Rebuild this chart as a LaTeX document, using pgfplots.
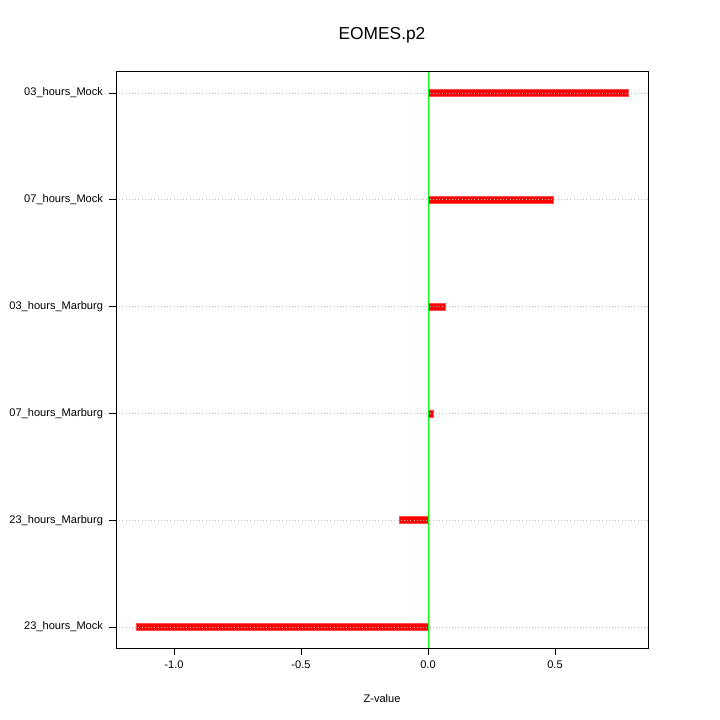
\documentclass[border=0pt]{standalone}
\usepackage{pgfplots}
\pgfplotsset{compat=1.18}
\usepackage{fontspec}
\setmainfont{Liberation Sans}

\begin{document}
\begin{tikzpicture}[x=0.75pt,y=0.75pt]
% 720 x 720 canvas
\path[use as bounding box] (0,0) rectangle (720,720);
\begin{axis}[
  at={(116pt*0.75,72pt*0.75)}, anchor=south west,
  scale only axis,
  width=399pt, height=432.75pt,
  xmin=-1.2283, xmax=0.8661,
  ymin=0.803, ymax=6.206,
  xtick={-1,-0.5,0,0.5},
  xticklabels={-1.0,-0.5,0.0,0.5},
  ytick={1,2,3,4,5,6},
  yticklabels={23\_hours\_Mock,23\_hours\_Marburg,07\_hours\_Marburg,03\_hours\_Marburg,07\_hours\_Mock,03\_hours\_Mock},
  tick align=outside,
  major tick length=5.25pt,
  tick style={black, line width=0.5pt},
  xtick pos=bottom, ytick pos=left,
  tick label style={font=\fontsize{8.3}{9}\selectfont},
  xticklabel style={yshift=-1pt},
  yticklabel style={xshift=-1pt},
  axis line style={black, line width=0.6pt},
  ymajorgrids,
  major grid style={black!25, dotted, line width=0.6pt},
  axis on top,
  xbar, bar width=5.25pt, bar shift=0pt,
  clip=false,
]
\addplot[fill=red, draw=red!70, line width=0.3pt] coordinates {
  (-1.150,1)
  (-0.114,2)
  (0.020,3)
  (0.067,4)
  (0.492,5)
  (0.787,6)
};
\draw[green, line width=0.7pt] (axis cs:0,0.803) -- (axis cs:0,6.206);
\end{axis}
\node[font=\fontsize{13}{15}\selectfont] at (382,685) {EOMES.p2};
\node[font=\fontsize{8.3}{9}\selectfont] at (382,21) {Z-value};
\end{tikzpicture}
\end{document}
